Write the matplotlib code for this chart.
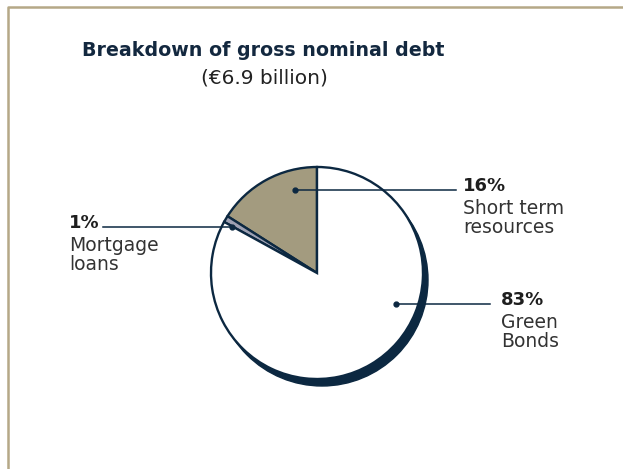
import matplotlib.pyplot as plt
import numpy as np
from matplotlib.patches import Circle

# data
labels = ['Short term\nresources', 'Mortgage\nloans', 'Green\nBonds']
shares = [16, 1, 83]
colors = ['#a39b7f', '#9ea1b3', '#ffffff']

navy = '#0c2841'
frame = '#b5a887'

W, H = 623, 469
fig = plt.figure(figsize=(W / 100, H / 100), dpi=100)
ax = fig.add_axes([0, 0, 1, 1])

# frame on top and left
ax.plot([7.5, 7.5, W], [0, H - 7, H - 7], color=frame, lw=1.8, solid_capstyle='butt')

cx, cy, R = 317, H - 273, 106

# dark offset disc gives the crescent shadow
ax.add_patch(Circle((cx + 5, cy - 7), R, color=navy, zorder=1))

wedges, _ = ax.pie(shares, colors=colors, startangle=90, counterclock=True,
                   center=(cx, cy), radius=R, frame=True,
                   wedgeprops=dict(edgecolor=navy, linewidth=1.7, zorder=2))
ax.set_xlim(0, W)
ax.set_ylim(0, H)
ax.set_aspect('equal')
ax.axis('off')

# dot position (angle, radius fraction), line end x, text anchor
dots = [(105, 0.81), (151.5, 0.91), (-21.5, 0.80)]
line_end = [456, 103, 490]
text_xy = [(463, H - 186), (69, H - 223), (501, H - 300)]

for w, share, lab, (ang, rf), lx, (tx, ty) in zip(wedges, shares, labels, dots, line_end, text_xy):
    a = np.deg2rad(ang)
    px, py = cx + rf * R * np.cos(a), cy + rf * R * np.sin(a)
    ax.plot([px, lx], [py, py], color=navy, lw=1.1, zorder=3)
    ax.plot(px, py, 'o', color=navy, ms=3.5, zorder=4)
    ax.text(tx, ty, f'{share}%', fontsize=13, fontweight='bold', color='#1e1e1e',
            ha='left', va='center')
    ax.text(tx, ty - 32, lab, fontsize=13.5, color='#333333', ha='left', va='center',
            linespacing=0.95)

ax.text(263, H - 50, 'Breakdown of gross nominal debt', fontsize=13.7, fontweight='bold',
        color='#13283f', ha='center', va='center')
ax.text(264, H - 78, '(€6.9 billion)', fontsize=14.5, color='#222222',
        ha='center', va='center')

fig.savefig('out.png', dpi=100)
